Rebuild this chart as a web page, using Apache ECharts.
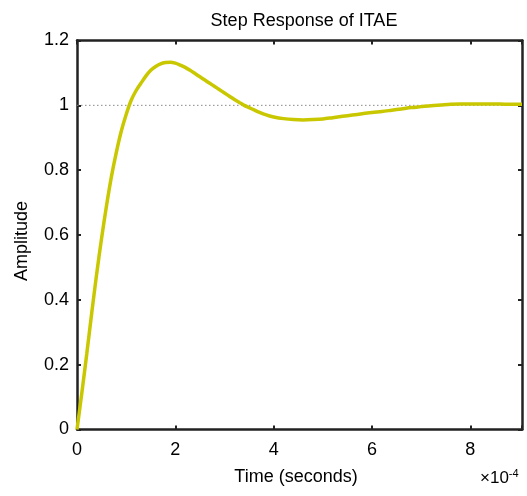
<!DOCTYPE html>
<html>
<head>
<meta charset="utf-8">
<script src="https://cdn.jsdelivr.net/npm/echarts@6/dist/echarts.min.js"></script>
<style>
  html, body { margin: 0; padding: 0; background: #fff; }
  #chart { width: 527px; height: 496px; }
</style>
</head>
<body>
<div id="chart"></div>
<script>
// Step response of the ITAE-tuned system (time in units of 1e-4 s)
const timeValues = [0, 0.1, 0.2, 0.3, 0.4, 0.5, 0.6, 0.7, 0.8, 0.9,
  1.0, 1.1, 1.2, 1.3, 1.4, 1.5, 1.6, 1.7, 1.8, 1.9,
  2.0, 2.1, 2.2, 2.3, 2.4, 2.5, 2.6, 2.7, 2.8, 2.9,
  3.0, 3.1, 3.2, 3.3, 3.4, 3.5, 3.6, 3.7, 3.8, 3.9,
  4.0, 4.2, 4.4, 4.6, 4.8, 5.0, 5.2, 5.4, 5.6, 5.8,
  6.0, 6.2, 6.4, 6.6, 6.8, 7.0, 7.2, 7.4, 7.6, 7.8,
  8.0, 8.2, 8.4, 8.6, 8.8, 9.0, 9.05];
const amplitudeValues = [0, 0.115, 0.235, 0.36, 0.48, 0.59, 0.69, 0.78, 0.855, 0.92,
  0.972, 1.015, 1.045, 1.068, 1.09, 1.108, 1.12, 1.128, 1.132, 1.133,
  1.130, 1.124, 1.117, 1.108, 1.098, 1.088, 1.078, 1.068, 1.058, 1.048,
  1.038, 1.028, 1.018, 1.009, 1.000, 0.993, 0.986, 0.979, 0.973, 0.968,
  0.964, 0.959, 0.956, 0.955, 0.956, 0.958, 0.962, 0.966, 0.970, 0.974,
  0.978, 0.981, 0.985, 0.989, 0.993, 0.996, 0.999, 1.001, 1.003, 1.004,
  1.004, 1.004, 1.004, 1.004, 1.003, 1.003, 1.003];
const xTicks = [0, 2, 4, 6, 8];
const yTicks = [0, 0.2, 0.4, 0.6, 0.8, 1, 1.2];
const steadyState = 1;
const xMax = 9.05;

const font = "'Liberation Sans', Arial, sans-serif";
const axisColor = '#222222';

const curve = timeValues.map((t, i) => [t, amplitudeValues[i]]);

const baseX = {
  type: 'value', min: 0, max: xMax, interval: 2,
  axisLine: { show: true, onZero: false, lineStyle: { color: axisColor, width: 2.5 } },
  axisTick: { show: true, inside: true, length: 4, lineStyle: { color: axisColor, width: 2 } },
  splitLine: { show: false }
};
const baseY = {
  type: 'value', min: 0, max: 1.2, interval: 0.2,
  axisLine: { show: true, onZero: false, lineStyle: { color: axisColor, width: 2.5 } },
  axisTick: { show: true, inside: true, length: 4, lineStyle: { color: axisColor, width: 2 } },
  splitLine: { show: false }
};

const chart = echarts.init(document.getElementById('chart'), null, { renderer: 'canvas' });
chart.setOption({
  animation: false,
  backgroundColor: '#ffffff',
  title: {
    text: 'Step Response of ITAE',
    left: 299, top: 7, textAlign: 'center',
    textStyle: { fontFamily: font, fontSize: 18, fontWeight: 'normal', color: '#000' }
  },
  grid: { left: 77, top: 40.5, width: 445, height: 389, containLabel: false },
  xAxis: [
    Object.assign({}, baseX, {
      position: 'bottom',
      axisLabel: {
        margin: 12, fontFamily: font, fontSize: 18, color: '#000',
        formatter: v => (xTicks.indexOf(Math.round(v * 100) / 100) >= 0 ? String(v) : '')
      }
    }),
    Object.assign({}, baseX, { position: 'top', axisLabel: { show: false } })
  ],
  yAxis: [
    Object.assign({}, baseY, {
      position: 'left',
      axisLabel: {
        margin: 8, fontFamily: font, fontSize: 18, color: '#000',
        formatter: v => {
          const r = Math.round(v * 10) / 10;
          return yTicks.indexOf(r) >= 0 ? String(r) : '';
        }
      }
    }),
    Object.assign({}, baseY, { position: 'right', axisLabel: { show: false } })
  ],
  graphic: [
    {
      type: 'text', x: 22, y: 241, rotation: Math.PI / 2,
      style: { text: 'Amplitude', fontFamily: font, fontSize: 18, fill: '#000', align: 'center', verticalAlign: 'middle' }
    },
    {
      type: 'text', x: 296, y: 477,
      style: { text: 'Time (seconds)', fontFamily: font, fontSize: 18, fill: '#000', align: 'center', verticalAlign: 'middle' }
    },
    {
      type: 'text', x: 480, y: 478,
      style: {
        text: '×10{sup|-4}', fontFamily: font, fontSize: 17, fill: '#000', align: 'left', verticalAlign: 'middle',
        rich: { sup: { fontFamily: font, fontSize: 11, fill: '#000', verticalAlign: 'top', padding: [0, 0, 9, 0] } }
      }
    }
  ],
  series: [
    {
      name: 'Steady state',
      type: 'line',
      data: [[0, steadyState], [xMax, steadyState]],
      symbol: 'none', silent: true, z: 1,
      lineStyle: { color: '#8a8a8a', width: 1, type: [1.5, 2.5] }
    },
    {
      name: 'ITAE',
      type: 'line',
      data: curve,
      smooth: 0.3,
      symbol: 'none', z: 3,
      lineStyle: { color: '#c9c700', width: 3.5 }
    }
  ]
});
</script>
</body>
</html>
